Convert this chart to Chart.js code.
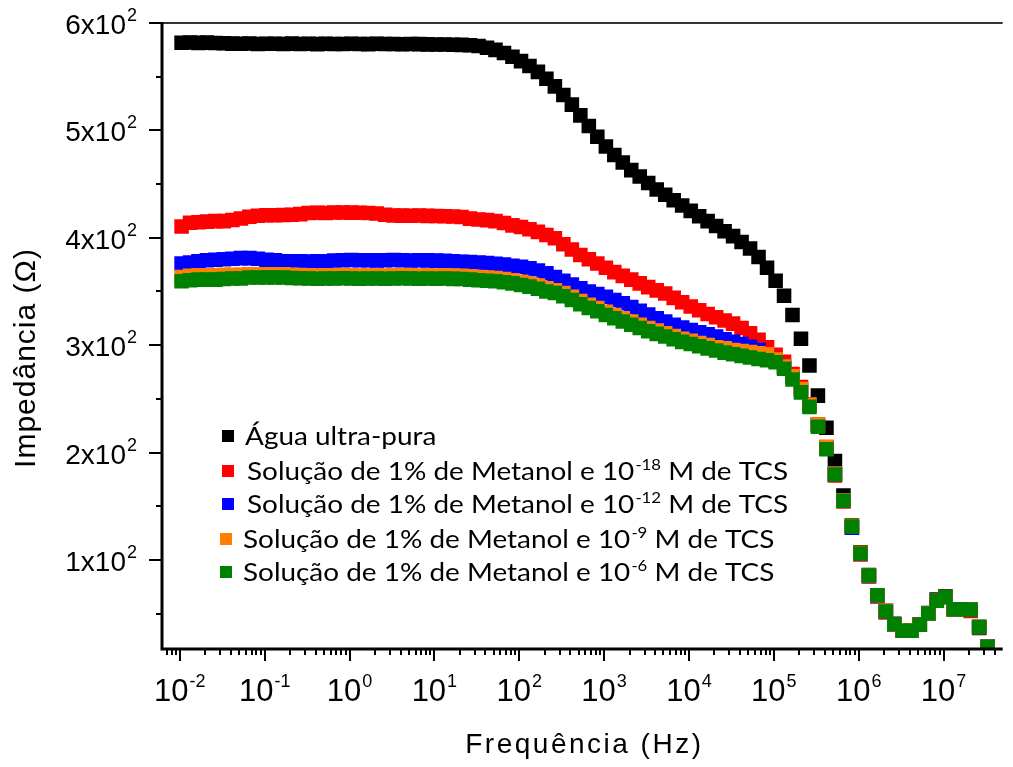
<!DOCTYPE html>
<html>
<head>
<meta charset="utf-8">
<script src="https://cdn.jsdelivr.net/npm/chart.js@4.4.1/dist/chart.umd.min.js"></script>
<style>
html,body{margin:0;padding:0;background:#ffffff;}
#wrap{width:1013px;height:767px;}
</style>
</head>
<body>
<div id="wrap"><canvas id="c" width="1013" height="767"></canvas></div>
<script>
// ---------------- data ----------------
const freqHz = [
0.0105,0.0132,0.0166,0.0209,0.0263,0.0331,0.0417,0.0525,0.0661,0.0832,
0.105,0.132,0.166,0.209,0.263,0.331,0.417,0.525,0.661,0.832,
1.05,1.32,1.66,2.09,2.63,3.31,4.17,5.25,6.61,8.32,
10.5,13.2,16.6,20.9,26.3,33.1,41.7,52.5,66.1,83.2,
105,132,166,209,263,331,417,525,661,832,
1050,1320,1660,2090,2630,3310,4170,5250,6610,8320,
10500,13200,16600,20900,26300,33100,41700,52500,66100,83200,
105000,132000,166000,209000,263000,331000,417000,525000,661000,832000,
1050000,1320000,1660000,2090000,2630000,3310000,4170000,5250000,6610000,8320000,
10500000,13200000,16600000,20900000,26300000,33100000];

const aguaUltraPura = [
581.6,581.8,581.5,581.7,581.4,581.2,580.8,580.6,580.9,580.5,
580.7,580.6,580.4,580.8,580.5,580.6,580.3,580.7,580.5,580.4,
580.6,580.5,580.3,580.6,580.4,580.5,580.2,580.4,580.3,580.1,
580.0,579.9,579.8,579.6,579.3,578.5,577,575,572,568.5,
564.5,560,554.5,548,541,533,524,514,504,494,
485,477,470,463,457,451,445,440,435,430,
425,420,415.5,411,406,401.5,396,390,382,372,
360,346,328,306,281,253,223,192,160,132,
107,86,67,52.5,40.5,34.5,34.5,40,50.5,63,
66,54,54,53.5,36.5,19];

const tcs18 = [
410.5,414,414.5,415,415.5,415.5,416.5,418,419.5,420.5,
421,421,421.2,421.5,422,423,423.2,423,423.5,423.6,
423.4,423.2,423,422.6,421.5,420.8,420.6,420.5,420.7,420.4,
420.2,420,419.8,419.3,417.8,417,416.4,415.5,413.8,411.5,
410,408,405.5,402.5,399.5,394,389,384,380,376,
372,368,364.5,361,357.5,354,351,348,344,340,
336,332.5,329,326,323,320,316,311,305,298,
291,284.5,273,261,245,226,205,178.5,154.5,130.5,
105,84.5,66,51,40,34,34,39.5,50,62,
65.5,54,54,52.5,37.5,19];

const tcs12 = [
376,377,378,379,379.5,380,380.5,381,381,380.5,
379.5,379,378.2,378,378,377.8,378,378.2,378.8,379,
379.2,379,379.1,378.9,379,379.2,379,378.8,379,378.9,
378.7,378.5,378,377.6,377.3,377,376.5,375.8,375,374,
373,371.5,369.5,367,363.5,360,356.5,353,350,347.5,
345,342,339,335.5,332,328.5,325,322,319,316.5,
314,312,310,308,305.5,303,301,298.5,295.5,291,
286,280,270.5,258.5,244,225.5,204.5,180,155.5,130,
106,85,66.5,52,40,34,34,39.5,50,62,
65.5,54,54,53.5,37.5,19];

const tcs9 = [
363.5,364.5,365,365,365,365.5,365.5,365.5,366,366,
366,366,366,365.5,365.2,365,364.8,365.1,365,365.3,
365,364.9,365.1,365,364.8,365,365.2,365,364.9,365,
364.8,365,364.7,364.5,364,363.5,363,362.5,361.5,360.5,
359,357.5,355.5,353,351,348.5,345,341,337.5,334.5,
331,328,325,322,319,316,313.5,311,308.5,306,
304,302,300,298,297,295.5,294.5,293.5,292.5,291.5,
286.5,280,271,259,244.5,226,205,180.5,155.5,131.5,
106.5,85.5,67,52.5,40,34.5,34.5,39.5,50,62,
65.5,54,54,53.5,37.5,19];

const tcs6 = [
359.5,360.5,361,361,361,361.5,362,362,363,363,
363,363,363,362.5,362.2,362,361.8,362.1,362,362.3,
362,361.9,362.1,362,361.8,362,362.2,362,361.9,362,
361.8,362,361.7,361.5,361,360.5,360,359.5,358.5,357.5,
356,354.5,352.5,350,348.5,345.5,342,338,334.5,331.5,
328,325,322,319,316,313,310.5,308,305.5,303,
301,299,297,295,293,291.5,290,288.5,287,286,
284,278,268,256,242.5,224,203,179.5,155,131,
106,85.5,67,52,40,34,34,39.5,50,62,
65.5,54,54,53.5,37.5,19];

const seriesNames = [
  'Água ultra-pura',
  'Solução de 1% de Metanol e 10⁻¹⁸ M de TCS',
  'Solução de 1% de Metanol e 10⁻¹² M de TCS',
  'Solução de 1% de Metanol e 10⁻⁹ M de TCS',
  'Solução de 1% de Metanol e 10⁻⁶ M de TCS'];
const legendMain = ['Água ultra-pura','Solução de 1% de Metanol e 10','Solução de 1% de Metanol e 10','Solução de 1% de Metanol e 10','Solução de 1% de Metanol e 10'];
const legendSup  = ['','-18','-12','-9','-6'];
const legendTail = ['',' M de TCS',' M de TCS',' M de TCS',' M de TCS'];
const seriesColors = ['#000000','#ff0000','#0000ff','#ff8000','#008000'];

const xTickExponents = [-2,-1,0,1,2,3,4,5,6,7];
const xMinorMantissas = [2,3,4,5,6,7,8,9];
const yTickValues = [100,200,300,400,500,600];
const yTickLabels = ['1x10','2x10','3x10','4x10','5x10','6x10'];
const yTickSup = '2';
const yMinorValues = [50,150,250,350,450,550];
const xTitle = 'Frequência (Hz)';
const yTitle = 'Impedância (Ω)';

// ---------------- drawing ----------------
const tickFont = '"Liberation Sans", Arial, sans-serif';
const legendFontFamily = 'Lato, "Open Sans", sans-serif';

function toPoints(vals){ return vals.map((v,i)=>({x:freqHz[i], y:v})); }
const allSeries = [aguaUltraPura, tcs18, tcs12, tcs9, tcs6];

const decor = {
  id:'decor',
  afterDraw(chart){
    const ctx = chart.ctx, a = chart.chartArea, xs = chart.scales.x, ys = chart.scales.y;
    ctx.save();
    // top frame line
    ctx.strokeStyle = '#333333'; ctx.lineWidth = 2;
    ctx.beginPath(); ctx.moveTo(a.left, a.top); ctx.lineTo(a.right, a.top); ctx.stroke();
    // axes
    ctx.strokeStyle = '#000000'; ctx.lineWidth = 3;
    ctx.beginPath(); ctx.moveTo(a.left, a.top-1); ctx.lineTo(a.left, a.bottom); ctx.lineTo(a.right, a.bottom); ctx.stroke();
    // y ticks
    ctx.lineWidth = 2;
    yTickValues.forEach(v=>{ const p = Math.round(ys.getPixelForValue(v));
      ctx.beginPath(); ctx.moveTo(a.left-13, p); ctx.lineTo(a.left, p); ctx.stroke(); });
    yMinorValues.forEach(v=>{ const p = Math.round(ys.getPixelForValue(v));
      ctx.beginPath(); ctx.moveTo(a.left-6, p); ctx.lineTo(a.left, p); ctx.stroke(); });
    // x ticks
    xTickExponents.forEach(e=>{ const p = Math.round(xs.getPixelForValue(Math.pow(10,e)));
      ctx.beginPath(); ctx.moveTo(p, a.bottom); ctx.lineTo(p, a.bottom+12); ctx.stroke(); });
    for (let e = -3; e <= 7; e++){
      xMinorMantissas.forEach(m=>{
        const v = m*Math.pow(10,e);
        if (v < xs.min || v > xs.max) return;
        const p = Math.round(xs.getPixelForValue(v));
        if (p <= a.left+1 || p >= a.right) return;
        ctx.beginPath(); ctx.moveTo(p, a.bottom); ctx.lineTo(p, a.bottom+6); ctx.stroke();
      });
    }
    // x tick labels
    ctx.fillStyle = '#000000'; ctx.textBaseline = 'alphabetic'; ctx.textAlign = 'left';
    xTickExponents.forEach(e=>{
      const p = xs.getPixelForValue(Math.pow(10,e));
      ctx.font = '31px ' + tickFont; const wm = ctx.measureText('10').width;
      ctx.font = '18px ' + tickFont; const sup = String(e); const ws = ctx.measureText(sup).width;
      const x0 = p - (wm + 1 + ws)/2;
      ctx.font = '31px ' + tickFont; ctx.fillText('10', x0, a.bottom + 52);
      ctx.font = '18px ' + tickFont; ctx.fillText(sup, x0 + wm + 1, a.bottom + 38);
    });
    // y tick labels
    yTickValues.forEach((v,i)=>{
      const p = ys.getPixelForValue(v);
      ctx.font = '18px ' + tickFont; const ws = ctx.measureText(yTickSup).width;
      ctx.font = '28px ' + tickFont; const wm = ctx.measureText(yTickLabels[i]).width;
      const xr = a.left - 25;
      ctx.fillText(yTickLabels[i], xr - ws - 1 - wm, p + 11);
      ctx.font = '18px ' + tickFont; ctx.fillText(yTickSup, xr - ws, p - 2);
    });
    // axis titles
    ctx.font = '28px ' + tickFont; ctx.letterSpacing = '2.5px'; ctx.textAlign = 'center';
    ctx.fillText(xTitle, (a.left + a.right)/2 + 2, a.bottom + 104);
    ctx.save();
    ctx.translate(a.left - 127, (a.top + a.bottom)/2 + 22);
    ctx.rotate(-Math.PI/2);
    ctx.font = '30px ' + tickFont; ctx.letterSpacing = '1px';
    ctx.fillText(yTitle, 0, 0);
    ctx.restore();
    ctx.letterSpacing = '0px'; ctx.textAlign = 'left';
    // legend
    const mainF = '25px ' + legendFontFamily, supF = '15px ' + legendFontFamily;
    function rowWidth(i){
      ctx.font = mainF; let w = ctx.measureText(legendMain[i]).width + ctx.measureText(legendTail[i]).width;
      ctx.font = supF; w += ctx.measureText(legendSup[i]).width; return w; }
    const s = 540 / rowWidth(1);
    const rowY = [413, 448, 481, 516, 549];
    const boxX = [60, 60, 60, 58, 58];
    const txtX = [83, 85, 85, 81, 81];
    for (let i = 0; i < 5; i++){
      const cy = a.top + rowY[i];
      ctx.fillStyle = seriesColors[i];
      ctx.fillRect(a.left + boxX[i], cy - 6, 12, 12);
      ctx.fillStyle = '#000000';
      ctx.save();
      ctx.translate(a.left + txtX[i], cy + 9);
      ctx.scale(s, 1);
      ctx.font = mainF; ctx.fillText(legendMain[i], 0, 0);
      let w = ctx.measureText(legendMain[i]).width;
      if (legendSup[i]){
        ctx.font = supF; ctx.fillText(legendSup[i], w + 1, -10);
        w += ctx.measureText(legendSup[i]).width + 1;
        ctx.font = mainF; ctx.fillText(legendTail[i], w, 0);
      }
      ctx.restore();
    }
    ctx.restore();
  }
};

const orders = [5,4,3,2,1];
new Chart(document.getElementById('c'), {
  type:'scatter',
  data:{ datasets: allSeries.map((vals,i)=>({
    label: seriesNames[i],
    data: toPoints(vals),
    backgroundColor: seriesColors[i],
    borderColor: seriesColors[i],
    borderWidth: 0,
    pointStyle: 'rect',
    pointRadius: 10.3,
    pointHoverRadius: 10.3,
    order: orders[i],
    clip: 0
  }))},
  options:{
    responsive:false, animation:false, devicePixelRatio:1,
    layout:{ padding:{ top:23, left:0, right:0, bottom:0 } },
    plugins:{ legend:{display:false}, tooltip:{enabled:false} },
    events: [],
    scales:{
      x:{ type:'logarithmic', min:0.00617, max:4.98e7,
          ticks:{display:false}, grid:{display:false}, border:{display:false},
          afterFit:(s)=>{ s.height = 118; } },
      y:{ type:'linear', min:17, max:600,
          ticks:{display:false}, grid:{display:false}, border:{display:false},
          afterFit:(s)=>{ s.width = 162; } }
    }
  },
  plugins:[decor]
});
</script>
</body>
</html>
